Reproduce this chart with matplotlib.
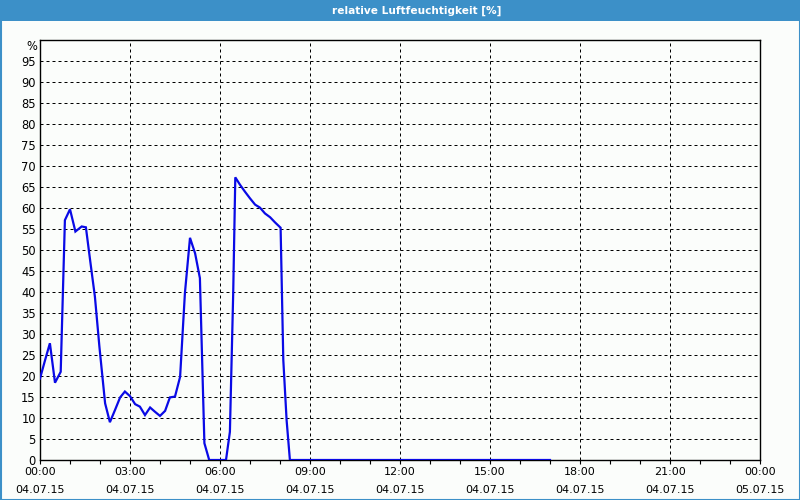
import matplotlib
matplotlib.use("Agg")
import matplotlib.pyplot as plt
from matplotlib.patches import Rectangle
from matplotlib.lines import Line2D
import matplotlib.transforms as mtransforms

# ---- data (hours since 04.07.15 00:00, relative humidity %) ----
hours = [0.00, 0.17, 0.33, 0.50, 0.69, 0.83, 1.00, 1.18, 1.39, 1.53,
         1.67, 1.83, 1.98, 2.17, 2.33, 2.50, 2.67, 2.83, 3.00, 3.17,
         3.33, 3.50, 3.67, 3.83, 4.00, 4.17, 4.33, 4.50, 4.67, 4.83,
         5.00, 5.17, 5.33, 5.48, 5.64, 6.20, 6.33, 6.44, 6.51, 6.67,
         6.83, 7.00, 7.17, 7.33, 7.50, 7.67, 7.83, 8.02, 8.11, 8.22,
         8.33, 17.00]
humidity = [19.4, 23.8, 27.8, 18.4, 21.0, 57.1, 59.7, 54.4, 55.6, 55.4,
            47.6, 38.9, 27.0, 13.5, 9.0, 11.9, 14.9, 16.3, 15.2, 13.3,
            12.7, 10.7, 12.5, 11.5, 10.5, 11.7, 14.9, 15.1, 19.8, 39.7,
            52.9, 49.2, 43.3, 4.0, 0.0, 0.0, 6.7, 39.7, 67.3, 65.5,
            63.9, 62.3, 60.8, 60.1, 58.7, 57.8, 56.6, 55.3, 23.8, 9.5,
            0.0, 0.0]

xtick_pos = [0, 3, 6, 9, 12, 15, 18, 21, 24]
xtick_labels = ["00:00\n04.07.15", "03:00\n04.07.15", "06:00\n04.07.15",
                "09:00\n04.07.15", "12:00\n04.07.15", "15:00\n04.07.15",
                "18:00\n04.07.15", "21:00\n04.07.15", "00:00\n05.07.15"]
ytick_vals = list(range(0, 100, 5))
title = "relative Luftfeuchtigkeit [%]"
unit_label = "%"

BLUE_BAR = "#3c90c8"
BG = "#fbfdfb"
LINE = "#0a0ae6"

plt.rcParams['font.family'] = ['DejaVu Sans']
fig = plt.figure(figsize=(8, 5), dpi=100, facecolor=BG)

# title bar and border
fig.patches.append(Rectangle((0, 1 - 21 / 500), 1, 21 / 500, transform=fig.transFigure,
                             facecolor=BLUE_BAR, edgecolor="none", zorder=0))
for (x0, y0, x1, y1) in [(0.5 / 800, 0, 0.5 / 800, 1), (799.5 / 800, 0, 799.5 / 800, 1),
                         (0, 0.5 / 500, 1, 0.5 / 500)]:
    fig.lines.append(Line2D([x0, x1], [y0, y1], transform=fig.transFigure,
                            color=BLUE_BAR, lw=1.5))
fig.text(417 / 800, 1 - 10.5 / 500, title, color="white", fontsize=7.6,
         fontweight="bold", ha="center", va="center")

ax = fig.add_axes([40 / 800, 40 / 500, 720 / 800, 420 / 500])
ax.set_facecolor(BG)
ax.plot(hours, humidity, color=LINE, lw=1.6, zorder=3, solid_joinstyle="miter")

ax.set_xlim(0, 24)
ax.set_ylim(0, 100)

for y in ytick_vals[1:]:
    ax.axhline(y, color="black", lw=0.72, ls=(0, (3, 3)), zorder=1)
for x in xtick_pos[1:-1]:
    ax.axvline(x, color="black", lw=0.72, ls=(0, (3, 3)), zorder=1)

ax.set_xticks(xtick_pos)
ax.set_xticklabels(xtick_labels, fontsize=8, linespacing=2.05)
ax.set_xticks(range(0, 25), minor=True)
ax.tick_params(axis="x", which="both", length=3, width=0.8, direction="out", pad=2)
ax.set_yticks(ytick_vals)
ax.set_yticklabels([str(v) for v in ytick_vals], fontsize=8.3)
ax.tick_params(axis="y", length=0, pad=3)

trans = mtransforms.offset_copy(ax.get_yaxis_transform(), fig=fig, x=-3, y=-6, units="dots")
ax.text(0, 100, unit_label, transform=trans, ha="right", va="center", fontsize=8.3)

for s in ax.spines.values():
    s.set_color("black")
    s.set_linewidth(1.0)

fig.savefig("out.png", dpi=100, facecolor=BG)
